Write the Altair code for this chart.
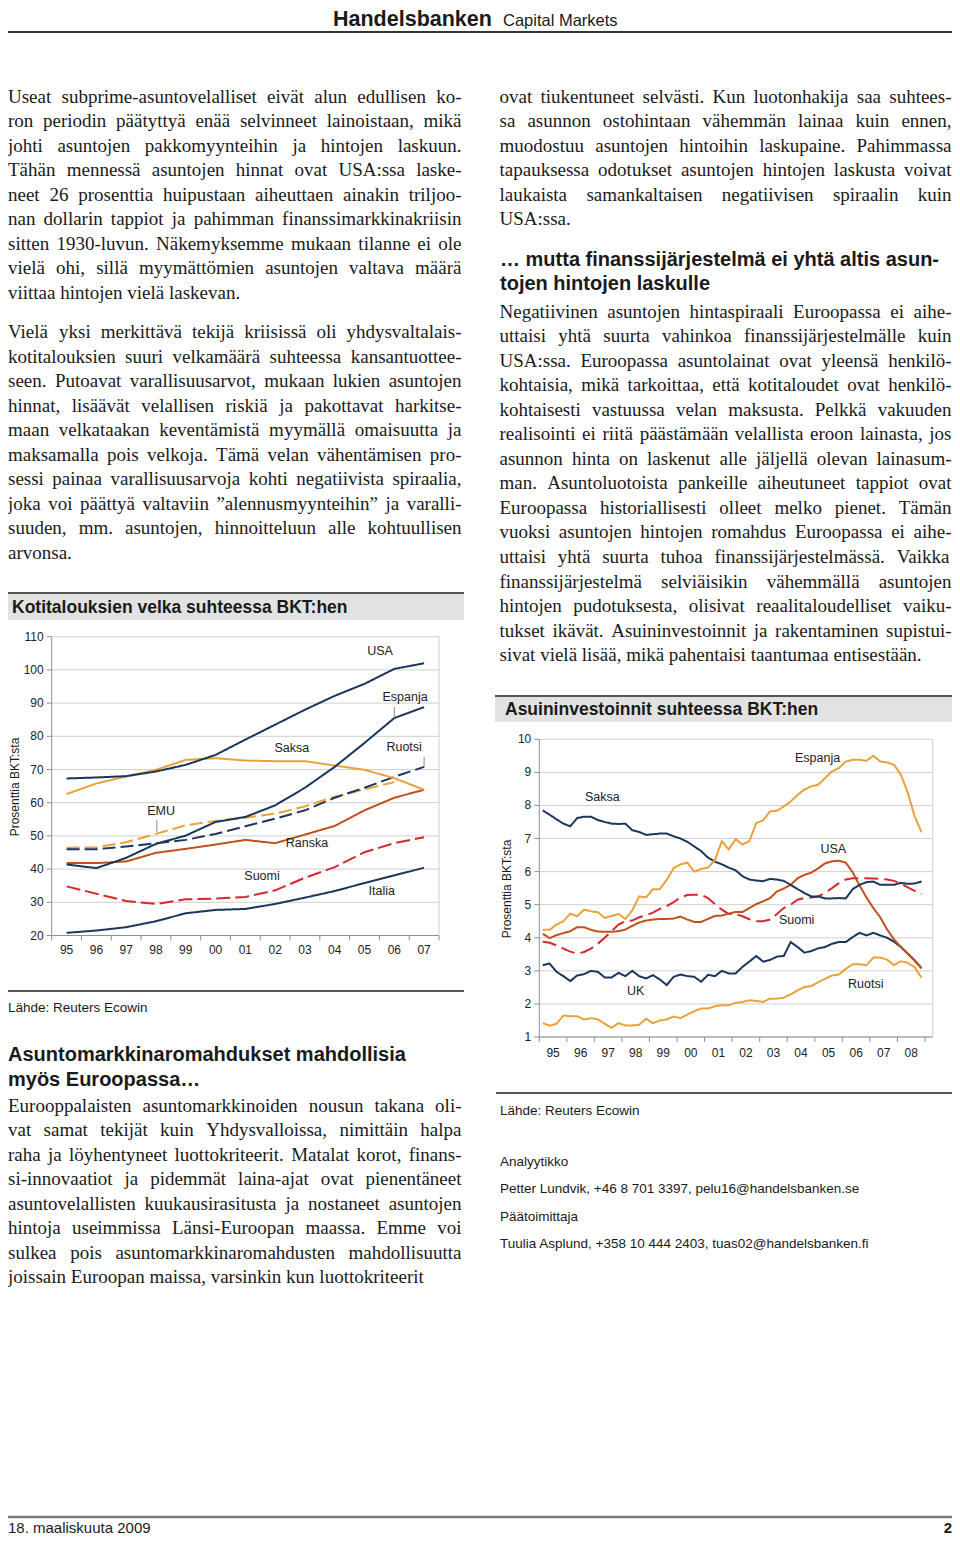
import altair as alt
import pandas as pd

M = 8  # page margin of the html page

SERIF = "Liberation Serif, Times New Roman, serif"
SANS = "Liberation Sans, Arial, Helvetica, sans-serif"

NAVY = "#1b365d"
ORANGE = "#eba13a"
BRICK = "#c1501e"
RED = "#d5282e"
GRID = "#cfcfcf"
AXIS = "#8f8f8f"
INK = "#1a1a1a"

# ====================== TEXT CONTENT ======================
header_brand = "Handelsbanken"
header_sub = "Capital Markets"
footer_date = "18. maaliskuuta 2009"
footer_page = "2"

left_p1 = [
    "Useat subprime-asuntovelalliset eivät alun edullisen ko-",
    "ron periodin päätyttyä enää selvinneet lainoistaan, mikä",
    "johti asuntojen pakkomyynteihin ja hintojen laskuun.",
    "Tähän mennessä asuntojen hinnat ovat USA:ssa laske-",
    "neet 26 prosenttia huipustaan aiheuttaen ainakin triljoo-",
    "nan dollarin tappiot ja pahimman finanssimarkkinakriisin",
    "sitten 1930-luvun. Näkemyksemme mukaan tilanne ei ole",
    "vielä ohi, sillä myymättömien asuntojen valtava määrä",
    "viittaa hintojen vielä laskevan.",
]
left_p2 = [
    "Vielä yksi merkittävä tekijä kriisissä oli yhdysvaltalais-",
    "kotitalouksien suuri velkamäärä suhteessa kansantuottee-",
    "seen. Putoavat varallisuusarvot, mukaan lukien asuntojen",
    "hinnat, lisäävät velallisen riskiä ja pakottavat harkitse-",
    "maan velkataakan keventämistä myymällä omaisuutta ja",
    "maksamalla pois velkoja. Tämä velan vähentämisen pro-",
    "sessi painaa varallisuusarvoja kohti negatiivista spiraalia,",
    "joka voi päättyä valtaviin ”alennusmyynteihin” ja varalli-",
    "suuden, mm. asuntojen, hinnoitteluun alle kohtuullisen",
    "arvonsa.",
]
left_head = ["Asuntomarkkinaromahdukset mahdollisia", "myös Euroopassa…"]
left_p3 = [
    "Eurooppalaisten asuntomarkkinoiden nousun takana oli-",
    "vat samat tekijät kuin Yhdysvalloissa, nimittäin halpa",
    "raha ja löyhentyneet luottokriteerit. Matalat korot, finans-",
    "si-innovaatiot ja pidemmät laina-ajat ovat pienentäneet",
    "asuntovelallisten kuukausirasitusta ja nostaneet asuntojen",
    "hintoja useimmissa Länsi-Euroopan maassa. Emme voi",
    "sulkea pois asuntomarkkinaromahdusten mahdollisuutta",
    "joissain Euroopan maissa, varsinkin kun luottokriteerit",
]
right_p1 = [
    "ovat tiukentuneet selvästi. Kun luotonhakija saa suhtees-",
    "sa asunnon ostohintaan vähemmän lainaa kuin ennen,",
    "muodostuu asuntojen hintoihin laskupaine. Pahimmassa",
    "tapauksessa odotukset asuntojen hintojen laskusta voivat",
    "laukaista samankaltaisen negatiivisen spiraalin kuin",
    "USA:ssa.",
]
right_head = ["… mutta finanssijärjestelmä ei yhtä altis asun-", "tojen hintojen laskulle"]
right_p2 = [
    "Negatiivinen asuntojen hintaspiraali Euroopassa ei aihe-",
    "uttaisi yhtä suurta vahinkoa finanssijärjestelmälle kuin",
    "USA:ssa. Euroopassa asuntolainat ovat yleensä henkilö-",
    "kohtaisia, mikä tarkoittaa, että kotitaloudet ovat henkilö-",
    "kohtaisesti vastuussa velan maksusta. Pelkkä vakuuden",
    "realisointi ei riitä päästämään velallista eroon lainasta, jos",
    "asunnon hinta on laskenut alle jäljellä olevan lainasum-",
    "man. Asuntoluotoista pankeille aiheutuneet tappiot ovat",
    "Euroopassa historiallisesti olleet melko pienet. Tämän",
    "vuoksi asuntojen hintojen romahdus Euroopassa ei aihe-",
    "uttaisi yhtä suurta tuhoa finanssijärjestelmässä. Vaikka",
    "finanssijärjestelmä selviäisikin vähemmällä asuntojen",
    "hintojen pudotuksesta, olisivat reaalitaloudelliset vaiku-",
    "tukset ikävät. Asuininvestoinnit ja rakentaminen supistui-",
    "sivat vielä lisää, mikä pahentaisi taantumaa entisestään.",
]
source_text = "Lähde: Reuters Ecowin"
contacts = [
    "Analyytikko",
    "Petter Lundvik, +46 8 701 3397, pelu16@handelsbanken.se",
    "Päätoimittaja",
    "Tuulia Asplund, +358 10 444 2403, tuas02@handelsbanken.fi",
]

# ====================== CHART 1 DATA ======================
c1_title = "Kotitalouksien velka suhteessa BKT:hen"
y_title = "Prosenttia BKT:sta"
c1_years = [1995, 1996, 1997, 1998, 1999, 2000, 2001, 2002, 2003, 2004, 2005, 2006, 2007]
c1_year_labels = ["95", "96", "97", "98", "99", "00", "01", "02", "03", "04", "05", "06", "07"]
c1_yticks = [20, 30, 40, 50, 60, 70, 80, 90, 100, 110]
c1_usa = [67.3, 67.6, 68.0, 69.4, 71.4, 74.4, 79.0, 83.5, 88.0, 92.2, 95.8, 100.3, 102.0]
c1_espanja = [41.4, 40.3, 43.4, 47.6, 50.1, 54.2, 55.7, 59.2, 64.5, 70.8, 78.0, 85.5, 88.8]
c1_saksa = [62.6, 65.8, 67.9, 69.9, 72.9, 73.4, 72.7, 72.5, 72.5, 71.2, 69.9, 67.4, 63.9]
c1_ruotsi = [46.0, 46.0, 46.8, 47.8, 48.8, 50.6, 52.9, 55.2, 57.7, 61.5, 64.5, 67.8, 70.8]
c1_emu = [46.4, 46.6, 48.1, 50.6, 53.2, 54.5, 55.5, 56.7, 58.9, 61.8, 64.0, 66.2]
c1_ranska = [41.8, 41.8, 42.3, 44.9, 46.1, 47.4, 48.8, 47.8, 50.4, 53.0, 57.7, 61.5, 63.9]
c1_suomi = [34.8, 32.6, 30.4, 29.5, 30.9, 31.1, 31.6, 33.6, 37.4, 40.6, 45.1, 47.8, 49.6]
c1_italia = [20.8, 21.5, 22.5, 24.3, 26.7, 27.7, 28.0, 29.5, 31.4, 33.4, 35.8, 38.1, 40.4]

c1_names = ["Italia", "Suomi", "Ranska", "EMU", "Ruotsi", "Saksa", "Espanja", "USA"]
c1_colors = [NAVY, RED, BRICK, ORANGE, NAVY, ORANGE, NAVY, NAVY]
c1_dashes = [[1, 0], [14, 5], [1, 0], [13, 5], [13, 5], [1, 0], [1, 0], [1, 0]]

c1_label_names = ["USA", "Espanja", "Saksa", "Ruotsi", "EMU", "Ranska", "Suomi", "Italia"]
c1_label_year = [2005.52, 2006.36, 2002.56, 2006.33, 1998.17, 2003.07, 2001.56, 2005.58]
c1_label_value = [105.7, 91.8, 76.5, 76.8, 57.5, 47.9, 37.9, 33.4]
c1_leader_year = [2006.0, 2007.0, 1998.03]
c1_leader_from = [85.5, 70.8, 51.2]
c1_leader_to = [88.8, 73.8, 54.8]

# ====================== CHART 2 DATA ======================
c2_title = "Asuininvestoinnit suhteessa BKT:hen"
c2_years = list(range(1995, 2009))
c2_year_labels = ["95", "96", "97", "98", "99", "00", "01", "02", "03", "04", "05", "06", "07", "08"]
c2_yticks = [1, 2, 3, 4, 5, 6, 7, 8, 9, 10]
c2_quarters = [(y, q) for y in range(1995, 2009) for q in range(1, 5)]
c2_saksa = [7.85, 7.72, 7.58, 7.45, 7.37, 7.62, 7.66, 7.66, 7.56, 7.5,
            7.45, 7.44, 7.45, 7.25, 7.2, 7.11, 7.13, 7.15, 7.15, 7.07,
            7.0, 6.9, 6.76, 6.62, 6.42, 6.3, 6.22, 6.12, 6.04, 5.86,
            5.76, 5.73, 5.71, 5.78, 5.76, 5.72, 5.6, 5.47, 5.35, 5.25,
            5.25, 5.19, 5.19, 5.2, 5.19, 5.47, 5.6, 5.68, 5.7, 5.6,
            5.6, 5.6, 5.66, 5.63, 5.64, 5.7]
c2_espanja = [4.24, 4.24, 4.4, 4.5, 4.73, 4.65, 4.85, 4.8, 4.77, 4.6,
              4.66, 4.72, 4.57, 4.83, 5.25, 5.22, 5.47, 5.47, 5.75, 6.1,
              6.22, 6.27, 6.0, 6.08, 6.12, 6.35, 6.92, 6.67, 6.98, 6.82,
              6.92, 7.47, 7.55, 7.82, 7.84, 7.97, 8.12, 8.32, 8.48, 8.58,
              8.63, 8.83, 9.03, 9.13, 9.33, 9.38, 9.38, 9.35, 9.5, 9.33,
              9.3, 9.23, 8.93, 8.38, 7.67, 7.19]
c2_usa = [4.12, 3.99, 4.08, 4.14, 4.2, 4.32, 4.32, 4.24, 4.19, 4.18,
          4.18, 4.2, 4.25, 4.36, 4.46, 4.52, 4.55, 4.57, 4.57, 4.58,
          4.64, 4.55, 4.48, 4.48, 4.57, 4.66, 4.67, 4.73, 4.78, 4.78,
          4.9, 5.02, 5.1, 5.2, 5.4, 5.49, 5.6, 5.8, 5.9, 5.97,
          6.1, 6.25, 6.31, 6.33, 6.27, 5.98, 5.58, 5.22, 4.9, 4.62,
          4.25, 3.95, 3.72, 3.52, 3.3, 3.08]
c2_suomi = [3.88, 3.85, 3.77, 3.67, 3.58, 3.52, 3.57, 3.67, 3.82, 4.0,
            4.2, 4.4, 4.5, 4.52, 4.62, 4.68, 4.76, 4.87, 4.96, 5.08,
            5.22, 5.29, 5.3, 5.3, 5.2, 5.02, 4.85, 4.72, 4.72, 4.65,
            4.56, 4.5, 4.5, 4.55, 4.72, 4.9, 5.0, 5.15, 5.2, 5.22,
            5.25, 5.36, 5.5, 5.65, 5.76, 5.8, 5.8, 5.8, 5.79, 5.78,
            5.76, 5.72, 5.64, 5.52, 5.42, 5.32]
c2_uk = [3.17, 3.22, 2.97, 2.84, 2.69, 2.86, 2.9, 3.0, 2.97, 2.8,
         2.8, 2.94, 2.84, 3.0, 2.84, 2.77, 2.87, 2.74, 2.57, 2.82,
         2.89, 2.84, 2.82, 2.67, 2.88, 2.84, 3.0, 2.92, 2.92, 3.12,
         3.28, 3.45, 3.28, 3.33, 3.43, 3.45, 3.87, 3.72, 3.55, 3.6,
         3.68, 3.72, 3.82, 3.87, 3.87, 4.02, 4.15, 4.07, 4.15, 4.07,
         4.0, 3.88, 3.72, 3.52, 3.32, 3.08]
c2_ruotsi = [1.42, 1.34, 1.4, 1.65, 1.63, 1.63, 1.53, 1.57, 1.53, 1.4,
             1.28, 1.42, 1.35, 1.35, 1.37, 1.55, 1.42, 1.5, 1.53, 1.62,
             1.57, 1.68, 1.78, 1.86, 1.86, 1.93, 1.96, 1.96, 2.03, 2.06,
             2.11, 2.09, 2.06, 2.16, 2.16, 2.19, 2.29, 2.41, 2.51, 2.54,
             2.66, 2.76, 2.86, 2.89, 3.06, 3.2, 3.2, 3.17, 3.4, 3.4,
             3.34, 3.17, 3.29, 3.24, 3.11, 2.79]

c2_names = ["Ruotsi", "UK", "Suomi", "USA", "Saksa", "Espanja"]
c2_colors = [ORANGE, NAVY, RED, BRICK, NAVY, ORANGE]
c2_dashes = [[1, 0], [1, 0], [14, 6], [1, 0], [1, 0], [1, 0]]

c2_label_names = ["Espanja", "Saksa", "USA", "Suomi", "UK", "Ruotsi"]
c2_label_year = [2005.1, 1997.29, 2005.67, 2004.34, 1998.5, 2006.85]
c2_label_value = [9.42, 8.26, 6.67, 4.54, 2.4, 2.59]

# ====================== HELPERS ======================
TW = {}
for ch, w in zip("abcdefghijklmnopqrstuvwxyz",
                 [444, 500, 444, 500, 444, 333, 500, 500, 278, 278, 500, 278, 778,
                  500, 500, 500, 500, 333, 389, 278, 500, 500, 722, 500, 500, 444]):
    TW[ch] = w
for ch, w in zip("ABCDEFGHIJKLMNOPQRSTUVWXYZ",
                 [722, 667, 667, 722, 611, 556, 722, 722, 333, 389, 722, 611, 889,
                  722, 722, 556, 722, 667, 556, 611, 722, 722, 944, 722, 722, 611]):
    TW[ch] = w
TW.update({"ä": 444, "ö": 500, "Ä": 722, "Ö": 722, "å": 444, " ": 250, ",": 250, ".": 250,
           ":": 278, ";": 278, "-": 333, "”": 444, "“": 444, "…": 1000, "(": 333, ")": 333})
for d in "0123456789":
    TW[d] = 500

BODY_FS = 19
LH = 24.55


def tw(s):
    return sum(TW.get(c, 500) for c in s) * BODY_FS / 1000.0


def para_rows(lines, x0, x1, base0):
    rows = []
    for i, line in enumerate(lines):
        y = base0 + i * LH
        words = line.split(" ")
        last = i == len(lines) - 1
        if last or len(words) < 2:
            rows.append({"x": x0 - M, "y": y - M, "t": line})
            continue
        ws = [tw(w) for w in words]
        gap = (x1 - x0 - sum(ws)) / (len(words) - 1)
        xx = x0
        for w, wd in zip(words, ws):
            rows.append({"x": xx - M, "y": y - M, "t": w})
            xx += wd + gap
    return rows


def text_layer(rows, font, size, weight="normal", color=INK, align="left",
               baseline="alphabetic", angle=0):
    df = pd.DataFrame(rows)
    kw = dict(font=font, fontSize=size, fontWeight=weight, color=color,
              align=align, baseline=baseline)
    if angle:
        kw["angle"] = angle
    return alt.Chart(df).mark_text(**kw).encode(
        x=alt.X("x:Q", scale=None, axis=None),
        y=alt.Y("y:Q", scale=None, axis=None),
        text="t:N",
    )


def page_rules(rows, color, width):
    df = pd.DataFrame(rows)
    return alt.Chart(df).mark_rule(color=color, strokeWidth=width).encode(
        x=alt.X("x:Q", scale=None, axis=None), x2="x2:Q",
        y=alt.Y("y:Q", scale=None, axis=None), y2="y2:Q")


def page_rects(rows, color):
    df = pd.DataFrame(rows)
    return alt.Chart(df).mark_rect(color=color).encode(
        x=alt.X("x:Q", scale=None, axis=None), x2="x2:Q",
        y=alt.Y("y:Q", scale=None, axis=None), y2="y2:Q")


def scaffold(X, Y, xlo, xhi, ylo, yhi, yticks, xbounds, xlabel_x, xlabels, label_dy):
    L = []
    g = pd.DataFrame({"v": yticks, "a": xlo, "b": xhi, "t": [str(v) for v in yticks]})
    fr = pd.DataFrame({"a": [xlo], "b": [xhi], "lo": [ylo], "hi": [yhi]})
    L.append(alt.Chart(g).mark_rule(color=GRID, strokeWidth=1).encode(
        x=alt.X("a:Q", scale=X, axis=None), x2="b:Q",
        y=alt.Y("v:Q", scale=Y, axis=None)))
    L.append(alt.Chart(fr).mark_rule(color=GRID, strokeWidth=1).encode(
        x=alt.X("b:Q", scale=X, axis=None),
        y=alt.Y("lo:Q", scale=Y, axis=None), y2="hi:Q"))
    L.append(alt.Chart(fr).mark_rule(color=AXIS, strokeWidth=1).encode(
        x=alt.X("a:Q", scale=X, axis=None),
        y=alt.Y("lo:Q", scale=Y, axis=None), y2="hi:Q"))
    L.append(alt.Chart(fr).mark_rule(color=AXIS, strokeWidth=1).encode(
        x=alt.X("a:Q", scale=X, axis=None), x2="b:Q",
        y=alt.Y("lo:Q", scale=Y, axis=None)))
    L.append(alt.Chart(g).mark_rule(color=AXIS, strokeWidth=1, xOffset=-5).encode(
        x=alt.X("a:Q", scale=X, axis=None), x2="a:Q",
        y=alt.Y("v:Q", scale=Y, axis=None)))
    xb = pd.DataFrame({"b": xbounds, "lo": ylo})
    L.append(alt.Chart(xb).mark_rule(color=AXIS, strokeWidth=1, y2Offset=5).encode(
        x=alt.X("b:Q", scale=X, axis=None),
        y=alt.Y("lo:Q", scale=Y, axis=None), y2="lo:Q"))
    L.append(alt.Chart(g).mark_text(align="right", baseline="middle", dx=-8,
                                    fontSize=12, font=SANS, color="#222").encode(
        x=alt.X("a:Q", scale=X, axis=None),
        y=alt.Y("v:Q", scale=Y, axis=None), text="t:N"))
    xl = pd.DataFrame({"x": xlabel_x, "lo": ylo, "t": xlabels})
    L.append(alt.Chart(xl).mark_text(align="center", baseline="middle", dy=label_dy,
                                     fontSize=12, font=SANS, color="#222").encode(
        x=alt.X("x:Q", scale=X, axis=None),
        y=alt.Y("lo:Q", scale=Y, axis=None), text="t:N"))
    return L


def lines_layer(df, X, Y, names, colors, dashes):
    return alt.Chart(df).mark_line(strokeWidth=2).encode(
        x=alt.X("x:Q", scale=X, axis=None),
        y=alt.Y("v:Q", scale=Y, axis=None),
        color=alt.Color("s:N", scale=alt.Scale(domain=names, range=colors), legend=None),
        strokeDash=alt.StrokeDash("s:N", scale=alt.Scale(domain=names, range=dashes), legend=None),
        order=alt.Order("k:Q"),
    )


def labels_layer(names, xs, vs, X, Y):
    df = pd.DataFrame({"x": xs, "v": vs, "t": names})
    return alt.Chart(df).mark_text(fontSize=12.5, font=SANS, color="#222",
                                   align="center", baseline="middle").encode(
        x=alt.X("x:Q", scale=X, axis=None),
        y=alt.Y("v:Q", scale=Y, axis=None), text="t:N")


# ====================== SCALES ======================
X1 = alt.Scale(domain=[1994.5, 2007.5], range=[51.7 - M, 439 - M], nice=False, zero=False)
Y1 = alt.Scale(domain=[20, 110], range=[935.5 - M, 636.7 - M], nice=False, zero=False)
X2 = alt.Scale(domain=[1995, 2009], range=[539.3 - M, 925 - M], nice=False, zero=False)
Y2 = alt.Scale(domain=[1, 10], range=[1037 - M, 739.3 - M], nice=False, zero=False)

RIGHT = 952  # right page edge available to the drawing

# ====================== BUILD ======================
layers = []

# page furniture
layers.append(page_rects([
    {"x": 3 - M, "x2": 464 - M, "y": 594 - M, "y2": 620 - M},
    {"x": 495 - M, "x2": RIGHT - M, "y": 697 - M, "y2": 722 - M},
], "#e2e2e2"))
layers.append(page_rules([
    {"x": 3 - M, "x2": RIGHT - M, "y": 32 - M, "y2": 32 - M},
], "#333333", 2))
layers.append(page_rules([
    {"x": 3 - M, "x2": 464 - M, "y": 593 - M, "y2": 593 - M},
    {"x": 495 - M, "x2": RIGHT - M, "y": 696 - M, "y2": 696 - M},
    {"x": 3 - M, "x2": 464 - M, "y": 991 - M, "y2": 991 - M},
    {"x": 496 - M, "x2": RIGHT - M, "y": 1093 - M, "y2": 1093 - M},
], "#555555", 2))
layers.append(page_rules([
    {"x": 3 - M, "x2": RIGHT - M, "y": 1517 - M, "y2": 1517 - M},
], "#7a7a7a", 2.5))

# header / footer
layers.append(text_layer([{"x": 333 - M, "y": 26 - M, "t": header_brand}], SANS, 21.5, "bold"))
layers.append(text_layer([{"x": 503 - M, "y": 26 - M, "t": header_sub}], SANS, 16.5))
layers.append(text_layer([{"x": 8 - M, "y": 1533 - M, "t": footer_date}], SANS, 15))
layers.append(text_layer([{"x": RIGHT - M, "y": 1533 - M, "t": footer_page}], SANS, 15, "bold", align="right"))

# body text
body_rows = []
body_rows += para_rows(left_p1, 8, 461.5, 102.5)
body_rows += para_rows(left_p2, 8, 461.5, 338)
body_rows += para_rows(left_p3, 8, 461.5, 1111.5)
body_rows += para_rows(right_p1, 499.5, 951.5, 102.5)
body_rows += para_rows(right_p2, 499.5, 951.5, 317.5)
layers.append(text_layer(body_rows, SERIF, BODY_FS))

head_rows = [
    {"x": 8 - M, "y": 1061 - M, "t": left_head[0]},
    {"x": 8 - M, "y": 1086 - M, "t": left_head[1]},
    {"x": 500 - M, "y": 265.5 - M, "t": right_head[0]},
    {"x": 500 - M, "y": 290 - M, "t": right_head[1]},
]
layers.append(text_layer(head_rows, SANS, 20, "bold"))

small_rows = [
    {"x": 8 - M, "y": 1008 - M, "t": source_text},
    {"x": 500 - M, "y": 1111 - M, "t": source_text},
    {"x": 500 - M, "y": 1162 - M, "t": contacts[0]},
    {"x": 500 - M, "y": 1189 - M, "t": contacts[1]},
    {"x": 500 - M, "y": 1217 - M, "t": contacts[2]},
    {"x": 500 - M, "y": 1244 - M, "t": contacts[3]},
]
layers.append(text_layer(small_rows, SANS, 13.5, baseline="middle"))

# chart titles
layers.append(text_layer([
    {"x": 12 - M, "y": 608 - M, "t": c1_title},
    {"x": 505 - M, "y": 710 - M, "t": c2_title},
], SANS, 17.5, "bold", baseline="middle"))
layers.append(text_layer([
    {"x": 15 - M, "y": 787 - M, "t": y_title},
    {"x": 507 - M, "y": 889 - M, "t": y_title},
], SANS, 12, align="center", baseline="middle", angle=270))

# ---- chart 1 ----
layers += scaffold(X1, Y1, 1994.5, 2007.5, 20, 110, c1_yticks,
                   [y - 0.5 for y in c1_years] + [2007.5], c1_years, c1_year_labels, 14.5)
c1_series = {"Italia": c1_italia, "Suomi": c1_suomi, "Ranska": c1_ranska, "EMU": c1_emu,
             "Ruotsi": c1_ruotsi, "Saksa": c1_saksa, "Espanja": c1_espanja, "USA": c1_usa}
rows = []
for name, vals in c1_series.items():
    for k, (yr, v) in enumerate(zip(c1_years, vals)):
        rows.append({"x": yr, "v": v, "s": name, "k": k})
layers.append(lines_layer(pd.DataFrame(rows), X1, Y1, c1_names, c1_colors, c1_dashes))
ld = pd.DataFrame({"x": c1_leader_year, "a": c1_leader_from, "b": c1_leader_to})
layers.append(alt.Chart(ld).mark_rule(color="#8a8a8a", strokeWidth=1).encode(
    x=alt.X("x:Q", scale=X1, axis=None),
    y=alt.Y("a:Q", scale=Y1, axis=None), y2="b:Q"))
layers.append(labels_layer(c1_label_names, c1_label_year, c1_label_value, X1, Y1))

# ---- chart 2 ----
layers += scaffold(X2, Y2, 1995, 2009.28, 1, 10, c2_yticks,
                   c2_years + [2009], [y + 0.5 for y in c2_years], c2_year_labels, 16)
c2_series = {"Ruotsi": c2_ruotsi, "UK": c2_uk, "Suomi": c2_suomi, "USA": c2_usa,
             "Saksa": c2_saksa, "Espanja": c2_espanja}
rows = []
for name, vals in c2_series.items():
    for k, ((yr, q), v) in enumerate(zip(c2_quarters, vals)):
        rows.append({"x": yr + (q - 0.5) / 4.0, "v": v, "s": name, "k": k})
layers.append(lines_layer(pd.DataFrame(rows), X2, Y2, c2_names, c2_colors, c2_dashes))
layers.append(labels_layer(c2_label_names, c2_label_year, c2_label_value, X2, Y2))

chart = alt.layer(*layers).resolve_scale(
    x="independent", y="independent", color="independent", strokeDash="independent"
).properties(
    width=944, height=1530, padding=0, autosize="none", background="white"
).configure_view(stroke=None)

chart.save("out.html", embed_options={"renderer": "svg", "actions": False})
